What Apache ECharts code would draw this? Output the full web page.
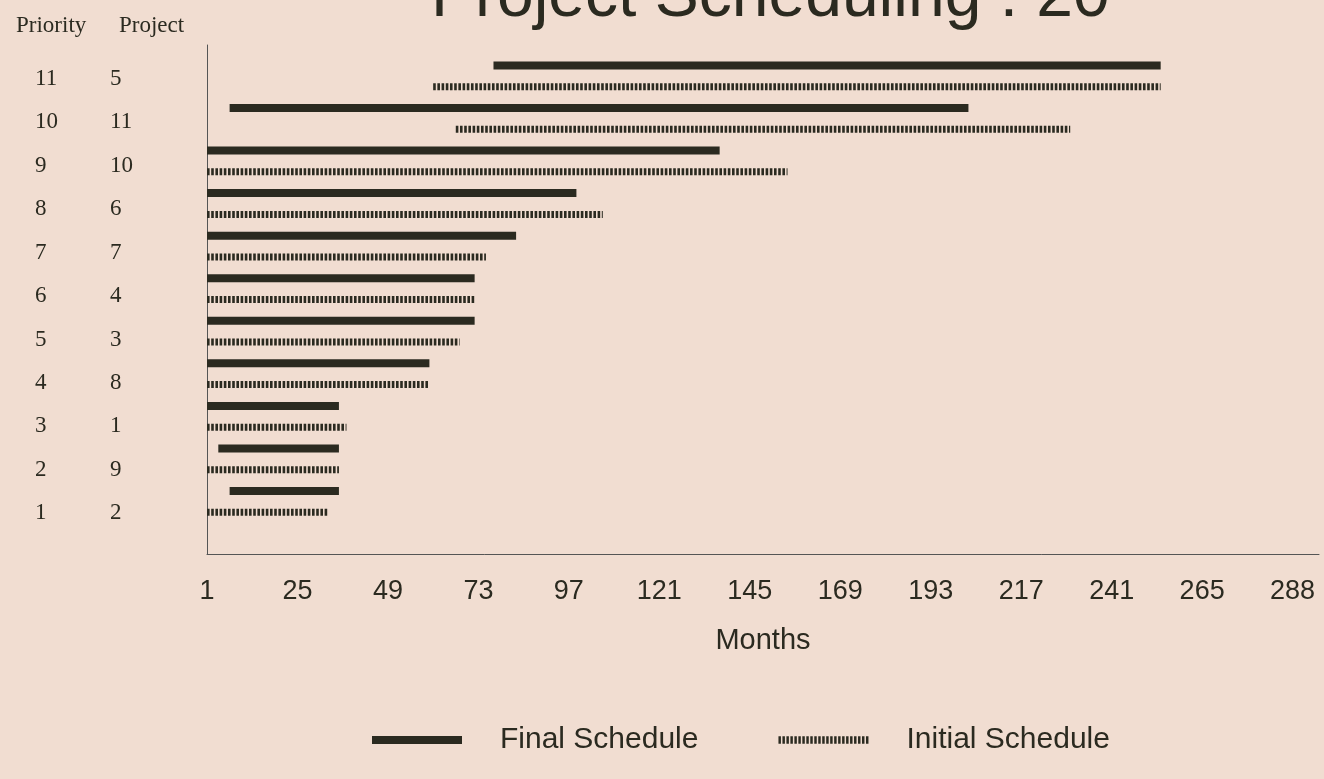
<!DOCTYPE html>
<html>
<head>
<meta charset="utf-8">
<script src="https://cdn.jsdelivr.net/npm/echarts@6/dist/echarts.min.js"></script>
<style>
html,body{margin:0;padding:0;background:#f1ddd1;}
#chart{width:1324px;height:779px;}
</style>
</head>
<body>
<div id="chart"></div>
<script>
// ---- data ----
const chartTitle = 'Project Scheduling : 20';
const priorityHeader = 'Priority';
const projectHeader = 'Project';
const xAxisName = 'Months';
const priorities = [1, 2, 3, 4, 5, 6, 7, 8, 9, 10, 11];
const projects = [2, 9, 1, 8, 3, 4, 7, 6, 10, 11, 5];
const finalStart = [7, 4, 1, 1, 1, 1, 1, 1, 1, 7, 77];
const finalEnd = [36, 36, 36, 60, 72, 72, 83, 99, 137, 203, 254];
const initialStart = [1, 1, 1, 1, 1, 1, 1, 1, 1, 67, 61];
const initialEnd = [33, 36, 38, 60, 68, 72, 75, 106, 155, 230, 254];
const tickLabels = ['1', '25', '49', '73', '97', '121', '145', '169', '193', '217', '241', '265', '288'];
const tickPositions = [1, 25, 49, 73, 97, 121, 145, 169, 193, 217, 241, 265, 289];

// ---- styles ----
const ink = '#2b2a20';
const finalData = priorities.map((p, i) => [finalStart[i], finalEnd[i], p]);
const initialData = priorities.map((p, i) => [initialStart[i], initialEnd[i], p]);

let stripes = '';
for (let k = 0; k < 23; k++) { stripes += 'M' + (k * 4.2) + ',0h2.6v8h-2.6z'; }

const chart = echarts.init(document.getElementById('chart'), null, {renderer: 'canvas'});
chart.setOption({
  backgroundColor: '#f1ddd1',
  animation: false,
  title: [
    {text: chartTitle, left: 426, top: -40,
     textStyle: {fontFamily: 'Liberation Sans', fontSize: 66, fontWeight: 'normal', color: ink}},
    {text: priorityHeader, left: 11, top: 9,
     textStyle: {fontFamily: 'Liberation Serif', fontSize: 23, fontWeight: 'normal', color: ink}},
    {text: projectHeader, left: 114, top: 9,
     textStyle: {fontFamily: 'Liberation Serif', fontSize: 23, fontWeight: 'normal', color: ink}}
  ],
  legend: {
    left: 372, top: 725, padding: 0, itemGap: 80, itemWidth: 90, itemHeight: 8,
    textStyle: {fontFamily: 'Liberation Sans', fontSize: 30, color: ink, padding: [0, 0, 0, 33]},
    data: [
      {name: 'Final Schedule', icon: 'rect', itemStyle: {color: ink}},
      {name: 'Initial Schedule', icon: 'path://' + stripes, itemStyle: {color: ink}}
    ]
  },
  grid: [
    {left: 207, right: 5, top: 45, bottom: 225},
    {left: 200, right: 900, top: 57, height: 478}
  ],
  xAxis: [
    {type: 'value', gridIndex: 0, min: 1, max: 296,
     name: xAxisName, nameLocation: 'middle', nameGap: 72,
     nameTextStyle: {fontFamily: 'Liberation Sans', fontSize: 29, color: ink},
     axisLine: {show: true, onZero: false, lineStyle: {color: '#555', width: 1}},
     axisTick: {show: false},
     splitLine: {show: false},
     axisLabel: {customValues: tickPositions, margin: 24,
       fontFamily: 'Liberation Sans', fontSize: 27, color: ink,
       formatter: (v) => tickLabels[tickPositions.indexOf(v)]}},
    {type: 'value', gridIndex: 1, show: false}
  ],
  yAxis: [
    {type: 'value', gridIndex: 0, min: -0.23, max: 11.73,
     axisLine: {show: true, onZero: false, lineStyle: {color: '#555', width: 1}},
     axisTick: {show: false}, axisLabel: {show: false}, splitLine: {show: false}},
    {type: 'category', gridIndex: 1, data: priorities.map(String), position: 'left',
     axisLine: {show: false}, axisTick: {show: false}, splitLine: {show: false},
     axisLabel: {align: 'left', margin: 165, fontFamily: 'Liberation Serif', fontSize: 23, color: ink}},
    {type: 'category', gridIndex: 1, data: projects.map(String), position: 'left',
     axisLine: {show: false}, axisTick: {show: false}, splitLine: {show: false},
     axisLabel: {align: 'left', margin: 90, fontFamily: 'Liberation Serif', fontSize: 23, color: ink}}
  ],
  series: [
    {
      name: 'Final Schedule', type: 'custom', xAxisIndex: 0, yAxisIndex: 0,
      itemStyle: {color: ink},
      renderItem: function (params, api) {
        const s = api.coord([api.value(0), api.value(2)]);
        const e = api.coord([api.value(1), api.value(2)]);
        const unit = api.size([0, 1])[1];
        const y = s[1] - 0.25 * unit;
        return {type: 'rect', shape: {x: s[0], y: y - 4, width: e[0] - s[0], height: 8},
                style: {fill: ink}};
      },
      data: finalData
    },
    {
      name: 'Initial Schedule', type: 'custom', xAxisIndex: 0, yAxisIndex: 0,
      itemStyle: {color: ink},
      renderItem: function (params, api) {
        const s = api.coord([api.value(0), api.value(2)]);
        const e = api.coord([api.value(1), api.value(2)]);
        const unit = api.size([0, 1])[1];
        const y = s[1] + 0.25 * unit;
        return {type: 'line', shape: {x1: s[0], y1: y, x2: e[0], y2: y},
                style: {stroke: ink, lineWidth: 7, lineDash: [2.6, 1.6], fill: null}};
      },
      data: initialData
    }
  ]
});
</script>
</body>
</html>
